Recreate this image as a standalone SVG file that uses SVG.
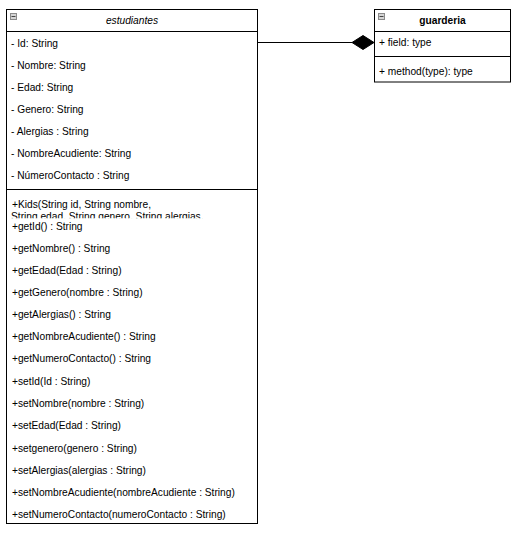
<svg xmlns="http://www.w3.org/2000/svg" width="517" height="534" viewBox="0 0 517 534">
<style>
.box{fill:#fff;stroke:#000;stroke-width:1}
.sep{stroke:#000;stroke-width:1}
.t{font-family:"Liberation Sans",Arial,sans-serif;font-size:10.2px;fill:#000}
.icon{fill:#d4d4d4;stroke:#8a8a8a;stroke-width:1}
.iconbar{stroke:#444;stroke-width:1}
</style>
<defs>
<clipPath id="kidsClip"><rect x="7" y="192" width="250" height="26.3"/></clipPath>
</defs>
<rect width="517" height="534" fill="#fff"/>
<g id="connectors">
<line x1="257.5" y1="42.5" x2="352" y2="42.5" stroke="#000" stroke-width="1"/>
<polygon points="352,42.5 363,35.5 374,42.5 363,49.5" fill="#000" stroke="#000" stroke-width="1"/>
</g>
<g id="estudiantes">
<rect class="box" x="6.5" y="9.5" width="251" height="514"/>
<line class="sep" x1="6.5" y1="31.5" x2="257.5" y2="31.5"/>
<line class="sep" x1="6.5" y1="189.5" x2="257.5" y2="189.5"/>
<rect class="icon" x="10.5" y="13.5" width="6" height="6"/>
<line class="iconbar" x1="11.5" y1="16.5" x2="15.5" y2="16.5"/>
<text class="t" x="132" y="24.3" text-anchor="middle" font-style="italic">estudiantes</text>
<text class="t" x="11" y="46.8">- Id: String</text>
<text class="t" x="11" y="68.8">- Nombre: String</text>
<text class="t" x="11" y="90.8">- Edad: String</text>
<text class="t" x="11" y="112.8">- Genero: String</text>
<text class="t" x="11" y="134.8">- Alergias : String</text>
<text class="t" x="11" y="157.3">- NombreAcudiente: String</text>
<text class="t" x="11" y="179.3">- NúmeroContacto : String</text>
<g clip-path="url(#kidsClip)">
<text class="t" x="12" y="207.7">+Kids(String id, String nombre,</text>
<text class="t" x="11" y="220.2">String edad, String genero, String alergias,</text>
</g>
<text class="t" x="12" y="230.3">+getId() : String</text>
<text class="t" x="12" y="252.3">+getNombre() : String</text>
<text class="t" x="12" y="274.3">+getEdad(Edad : String)</text>
<text class="t" x="12" y="296.3">+getGenero(nombre : String)</text>
<text class="t" x="12" y="318.3">+getAlergias() : String</text>
<text class="t" x="12" y="340.3">+getNombreAcudiente() : String</text>
<text class="t" x="12" y="362.1">+getNumeroContacto() : String</text>
<text class="t" x="12" y="385">+setId(Id : String)</text>
<text class="t" x="12" y="407">+setNombre(nombre : String)</text>
<text class="t" x="12" y="429">+setEdad(Edad : String)</text>
<text class="t" x="12" y="451.5">+setgenero(genero : String)</text>
<text class="t" x="12" y="473.5">+setAlergias(alergias : String)</text>
<text class="t" x="12" y="496">+setNombreAcudiente(nombreAcudiente : String)</text>
<text class="t" x="12" y="517.5">+setNumeroContacto(numeroContacto : String)</text>
</g>
<g id="guarderia">
<rect class="box" x="374.5" y="9.5" width="136" height="72.5"/>
<line class="sep" x1="374.5" y1="31.5" x2="510.5" y2="31.5"/>
<line class="sep" x1="374.5" y1="56.5" x2="510.5" y2="56.5"/>
<rect class="icon" x="378.5" y="13.5" width="6" height="6"/>
<line class="iconbar" x1="379.5" y1="16.5" x2="383.5" y2="16.5"/>
<text class="t" x="442.5" y="24.3" text-anchor="middle" font-weight="bold">guarderia</text>
<text class="t" x="379" y="46.3">+ field: type</text>
<text class="t" x="379" y="75.3">+ method(type): type</text>
</g>
</svg>
